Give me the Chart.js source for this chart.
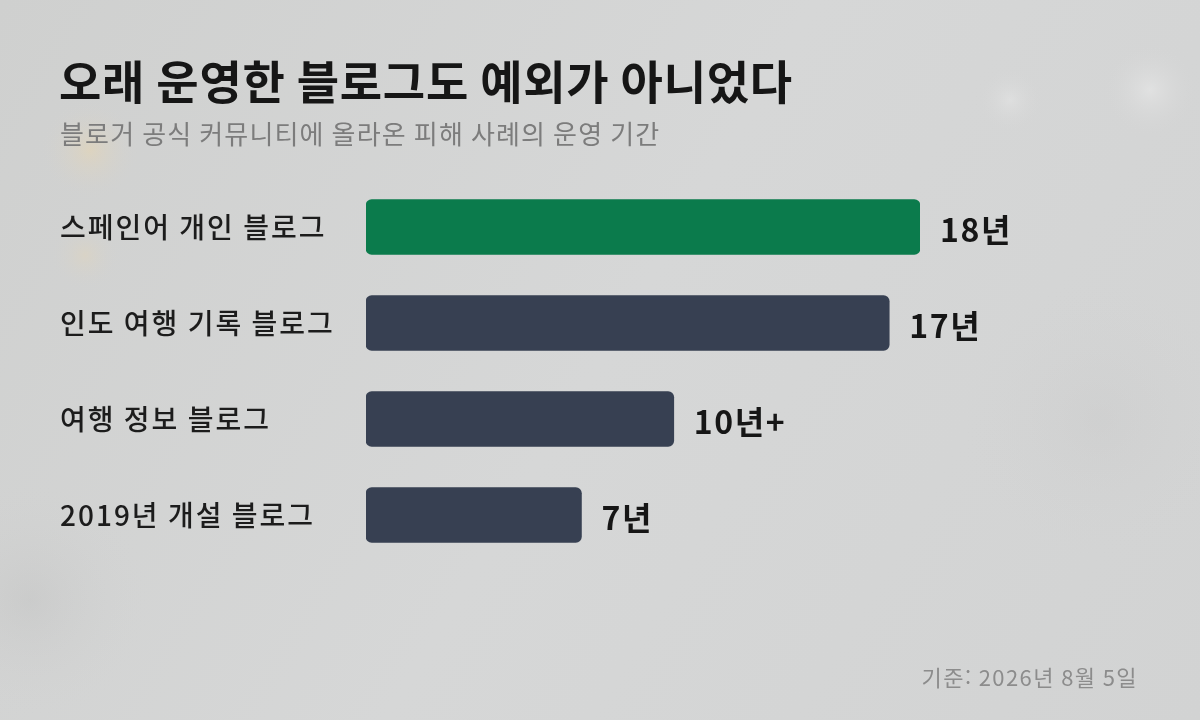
<!DOCTYPE html>
<html lang="ko">
<head>
<meta charset="utf-8">
<style>
  html,body{margin:0;padding:0;background:#d4d5d5;}
  #wrap{position:relative;width:1200px;height:720px;}
</style>
<script src="https://cdn.jsdelivr.net/npm/chart.js@4.4.1/dist/chart.umd.min.js"></script>
</head>
<body>
<div id="wrap"><canvas id="c" width="1200" height="720"></canvas></div>
<script>
const categories = ["스페인어 개인 블로그", "인도 여행 기록 블로그", "여행 정보 블로그", "2019년 개설 블로그"];
const years = [18, 17, 10, 7];
const valueLabels = ["18년", "17년", "10년+", "7년"];
const barColors = ["#0b7b4c", "#374052", "#374052", "#374052"];
const titleText = "오래 운영한 블로그도 예외가 아니었다";
const subtitleText = "블로거 공식 커뮤니티에 올라온 피해 사례의 운영 기간";
const footerText = "기준: 2026년 8월 5일";

const FONT = '"Noto Sans CJK KR", "Noto Sans", sans-serif';

const bgPlugin = {
  id: 'bg',
  beforeDraw(chart) {
    const ctx = chart.ctx, w = chart.width, h = chart.height;
    ctx.save();
    const g = ctx.createLinearGradient(0, 0, w, h);
    g.addColorStop(0, '#cfd0cf');
    g.addColorStop(0.5, '#d6d7d7');
    g.addColorStop(1, '#d2d3d3');
    ctx.fillStyle = g;
    ctx.fillRect(0, 0, w, h);
    const blobs = [
      [90, 150, 50, 'rgba(240,215,165,0.40)'],
      [85, 255, 35, 'rgba(240,215,165,0.25)'],
      [1150, 90, 50, 'rgba(240,240,240,0.45)'],
      [1010, 100, 35, 'rgba(240,240,240,0.35)'],
      [30, 600, 120, 'rgba(180,180,180,0.25)'],
      [1100, 420, 140, 'rgba(195,195,195,0.25)']
    ];
    blobs.forEach(([x, y, r, c]) => {
      const rg = ctx.createRadialGradient(x, y, 0, x, y, r);
      rg.addColorStop(0, c);
      rg.addColorStop(1, 'rgba(210,210,210,0)');
      ctx.fillStyle = rg;
      ctx.fillRect(x - r, y - r, 2 * r, 2 * r);
    });
    ctx.restore();
  }
};

const textPlugin = {
  id: 'texts',
  afterDatasetsDraw(chart) {
    const ctx = chart.ctx;
    ctx.save();
    ctx.textBaseline = 'middle';
    ctx.textAlign = 'left';
    // title
    ctx.fillStyle = '#161616';
    ctx.font = '700 46px ' + FONT;
    ctx.letterSpacing = '0.75px';
    ctx.fillText(titleText, 59, 82);
    // subtitle
    ctx.fillStyle = '#7c7c7c';
    ctx.font = '400 26px ' + FONT;
    ctx.letterSpacing = '1.15px';
    ctx.fillText(subtitleText, 60, 134);
    // footer
    ctx.fillStyle = '#8c8c8c';
    ctx.font = '400 22px ' + FONT;
    ctx.letterSpacing = '1.4px';
    ctx.textAlign = 'right';
    ctx.fillText(footerText, 1138, 678);
    // value labels
    const meta = chart.getDatasetMeta(0);
    ctx.textAlign = 'left';
    ctx.fillStyle = '#161616';
    ctx.font = '700 32px ' + FONT;
    ctx.letterSpacing = '1.6px';
    meta.data.forEach((bar, i) => {
      ctx.fillText(valueLabels[i], bar.x + 20, bar.y + 3);
    });
    ctx.restore();
  }
};

new Chart(document.getElementById('c'), {
  type: 'bar',
  data: {
    labels: categories,
    datasets: [{
      data: years,
      backgroundColor: barColors,
      borderRadius: 6,
      borderSkipped: false,
      barThickness: 55
    }]
  },
  options: {
    indexAxis: 'y',
    responsive: false,
    animation: false,
    devicePixelRatio: 1,
    layout: { padding: { top: 179, left: 60, right: 280, bottom: 157 } },
    plugins: { legend: { display: false }, tooltip: { enabled: false } },
    scales: {
      x: { display: false, min: 0, max: 18 },
      y: {
        grid: { display: false },
        border: { display: false },
        ticks: {
          crossAlign: 'far',
          padding: 0,
          color: '#1c1c1c',
          font: { family: FONT, size: 28, weight: '500' }
        },
        afterFit(scale) { scale.width = 306; }
      }
    }
  },
  plugins: [bgPlugin, textPlugin, {
    id: 'tickSpacing',
    beforeDraw(chart) { chart.ctx.letterSpacing = '2px'; },
    afterDraw(chart) { chart.ctx.letterSpacing = '0px'; }
  }]
});
</script>
</body>
</html>
